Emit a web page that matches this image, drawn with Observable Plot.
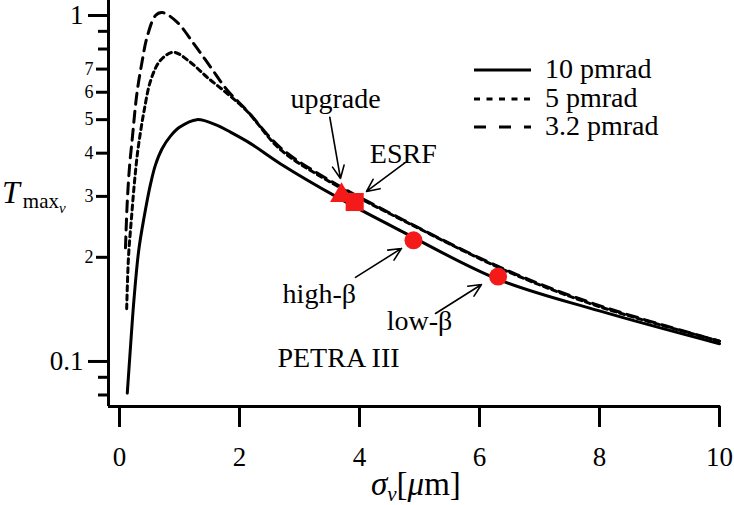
<!DOCTYPE html>
<html>
<head>
<meta charset="utf-8">
<script src="https://cdn.jsdelivr.net/npm/d3@7"></script>
<script src="https://cdn.jsdelivr.net/npm/@observablehq/plot@0.6"></script>
<style>
  body { margin: 0; background: #fff; }
  #chart { width: 734px; height: 505px; }
  #chart [aria-label$="tick"], #chart [aria-label$="tick"] path { stroke-width: 3px !important; }
</style>
</head>
<body>
<div id="chart"></div>
<script>
// ---- data ----
const seriesNames = ["10 pmrad", "5 pmrad", "3.2 pmrad"];

const sigma10 = [0.13, 0.18, 0.24, 0.32, 0.41, 0.52, 0.60, 0.71, 0.85, 1.0, 1.29, 1.63, 1.85, 2.18, 2.68, 3.68, 4.68, 6.3, 8.0, 10.0];
const tmax10  = [0.081, 0.108, 0.150, 0.209, 0.261, 0.327, 0.370, 0.412, 0.448, 0.475, 0.50, 0.481, 0.460, 0.427, 0.373, 0.295, 0.239, 0.173, 0.140, 0.1125];

const sigma5 = [0.12, 0.15, 0.20, 0.25, 0.30, 0.35, 0.41, 0.52, 0.68, 0.90, 1.18, 1.46, 1.80, 2.13, 2.68, 3.50, 4.74, 6.5, 8.0, 10.0];
const tmax5  = [0.142, 0.20, 0.26, 0.33, 0.40, 0.46, 0.53, 0.649, 0.741, 0.783, 0.733, 0.663, 0.594, 0.528, 0.41, 0.331, 0.255, 0.181, 0.144, 0.1145];

const sigma32 = [0.10, 0.13, 0.17, 0.21, 0.29, 0.38, 0.46, 0.60, 0.71, 0.96, 1.24, 1.52, 1.80, 2.13, 2.68, 3.50, 4.74, 6.5, 8.0, 10.0];
const tmax32  = [0.213, 0.29, 0.37, 0.435, 0.594, 0.741, 0.866, 1.0, 1.02, 0.957, 0.828, 0.709, 0.607, 0.53, 0.415, 0.334, 0.256, 0.182, 0.145, 0.1145];

// facilities (markers)
const markerName   = ["upgrade", "ESRF", "high-β", "low-β"];
const markerSigma  = [3.70, 3.92, 4.90, 6.31];
const markerTmax   = [0.302, 0.289, 0.224, 0.176];
const markerSymbol = ["triangle", "square", "circle", "circle"];

// annotation labels and arrows (data coordinates)
const labelText  = ["upgrade", "ESRF", "high-β", "low-β", "PETRA III"];
const labelSigma = [3.60, 4.73, 3.33, 5.00, 3.65];
const labelTmax  = [0.575, 0.399, 0.157, 0.1305, 0.102];

const arrowX1 = [3.505, 4.767, 3.933, 5.267];
const arrowY1 = [0.508, 0.376, 0.175, 0.1376];
const arrowX2 = [3.683, 4.117, 4.70, 6.033];
const arrowY2 = [0.338, 0.310, 0.2122, 0.1669];

// axes
const xDomain = [-0.183, 10];
const yDomain = [0.0741, 1.105];
const xTicks = [0, 2, 4, 6, 8, 10];
const yMajorTicks = [0.1, 1];
const yMinorLabeled = [0.2, 0.3, 0.4, 0.5, 0.6, 0.7];
const yMinorPlain = [0.08, 0.09, 0.8, 0.9];

// ---- build ----
const zip = (xs, ys) => xs.map((x, i) => ({x, y: ys[i]}));
const d10 = zip(sigma10, tmax10);
const d5 = zip(sigma5, tmax5);
const d32 = zip(sigma32, tmax32);
const markers = markerSigma.map((x, i) => ({x, y: markerTmax[i], s: markerSymbol[i], name: markerName[i]}));
const labels = labelSigma.map((x, i) => ({x, y: labelTmax[i], t: labelText[i]}));
const arrows = arrowX1.map((x1, i) => ({x1, y1: arrowY1[i], x2: arrowX2[i], y2: arrowY2[i]}));

const font = "'Liberation Serif', 'Times New Roman', serif";
const dashes = [null, "5,4", "11,7"];
const legendDashes = [null, "6,6.5", "12,13"];
const red = "#f51a1a";
const symbolSize = {triangle: 8.5, square: 10.2, circle: 9};

const plot = Plot.plot({
  width: 734,
  height: 505,
  marginLeft: 108,
  marginRight: 15,
  marginTop: 0,
  marginBottom: 99,
  x: {domain: xDomain, label: null},
  y: {type: "log", domain: yDomain, label: null},
  style: {fontFamily: font, background: "white", color: "black", overflow: "visible"},
  marks: [
    Plot.line(d10, {x: "x", y: "y", stroke: "black", strokeWidth: 3, curve: "catmull-rom"}),
    Plot.line(d5, {x: "x", y: "y", stroke: "black", strokeWidth: 3, strokeDasharray: dashes[1], curve: "catmull-rom"}),
    Plot.line(d32, {x: "x", y: "y", stroke: "black", strokeWidth: 3, strokeDasharray: dashes[2], curve: "catmull-rom"}),
    Plot.ruleX([xDomain[0]], {stroke: "black", strokeWidth: 3}),
    Plot.ruleY([yDomain[0]], {x1: xDomain[0], x2: 10.02, stroke: "black", strokeWidth: 3}),
    Plot.axisX({ticks: xTicks, tickSize: 21, tickPadding: 19, fontSize: 27, strokeWidth: 3, tickFormat: d => String(d), fontFamily: font}),
    Plot.axisY({ticks: yMajorTicks, tickSize: 20, tickPadding: 5, fontSize: 27, strokeWidth: 3, tickFormat: d => String(d), fontFamily: font}),
    Plot.axisY({ticks: yMinorLabeled, tickSize: 12, tickPadding: 3, fontSize: 18, strokeWidth: 3, tickFormat: d => String(Math.round(d * 10)), fontFamily: font}),
    Plot.axisY({ticks: yMinorPlain, tickSize: 10, tickPadding: 3, fontSize: 18, strokeWidth: 3, tickFormat: () => "", fontFamily: font}),
    Plot.arrow(arrows, {x1: "x1", y1: "y1", x2: "x2", y2: "y2", stroke: "black", strokeWidth: 1.6, headLength: 13, headAngle: 50}),
    ...["triangle", "square", "circle"].map(s =>
      Plot.dot(markers.filter(d => d.s === s), {x: "x", y: "y", symbol: s, fill: red, stroke: "none", r: symbolSize[s]})
    ),
    Plot.text(labels, {x: "x", y: "y", text: "t", fontSize: 28, fontFamily: font, textAnchor: "middle", lineAnchor: "middle", fill: "black"})
  ]
});

document.getElementById("chart").appendChild(plot);

const svg = d3.select(plot);
// thicker axis ticks
svg.selectAll('[aria-label*="tick"]').attr("stroke-width", 3).style("stroke-width", "3px");
svg.selectAll('[aria-label*="tick"] path, [aria-label*="tick"] line').attr("stroke-width", 3).style("stroke-width", "3px");

// legend inside the plot area
const legY = [70, 99, 127];
const leg = svg.append("g").attr("text-anchor", "start");
seriesNames.forEach((name, i) => {
  leg.append("line")
    .attr("x1", 474).attr("x2", 531).attr("y1", legY[i]).attr("y2", legY[i])
    .attr("stroke", "black").attr("stroke-width", 3)
    .attr("stroke-dasharray", legendDashes[i]);
  leg.append("text")
    .attr("x", 545).attr("y", legY[i] + 8)
    .attr("text-anchor", "start")
    .attr("font-family", font).attr("font-size", 28).attr("fill", "black")
    .text(name);
});

// y axis title  T_{max_v}
const yt = svg.append("text").attr("x", 2).attr("y", 203).attr("text-anchor", "start").attr("font-family", font).attr("fill", "black");
yt.append("tspan").attr("font-style", "italic").attr("font-size", 32).text("T");
yt.append("tspan").attr("font-size", 21).attr("dx", 3).attr("dy", 5).text("max");
yt.append("tspan").attr("font-style", "italic").attr("font-size", 15).attr("dy", 5).text("v");

// x axis title  σ_v[μm]
const xt = svg.append("text").attr("x", 371).attr("y", 495).attr("text-anchor", "start").attr("font-family", font).attr("fill", "black");
xt.append("tspan").attr("font-style", "italic").attr("font-size", 33).text("σ");
xt.append("tspan").attr("font-style", "italic").attr("font-size", 21).attr("dy", 6).text("v");
xt.append("tspan").attr("font-size", 33).attr("dy", -6).text("[");
xt.append("tspan").attr("font-style", "italic").attr("font-size", 33).text("μ");
xt.append("tspan").attr("font-size", 33).text("m]");
</script>
</body>
</html>
